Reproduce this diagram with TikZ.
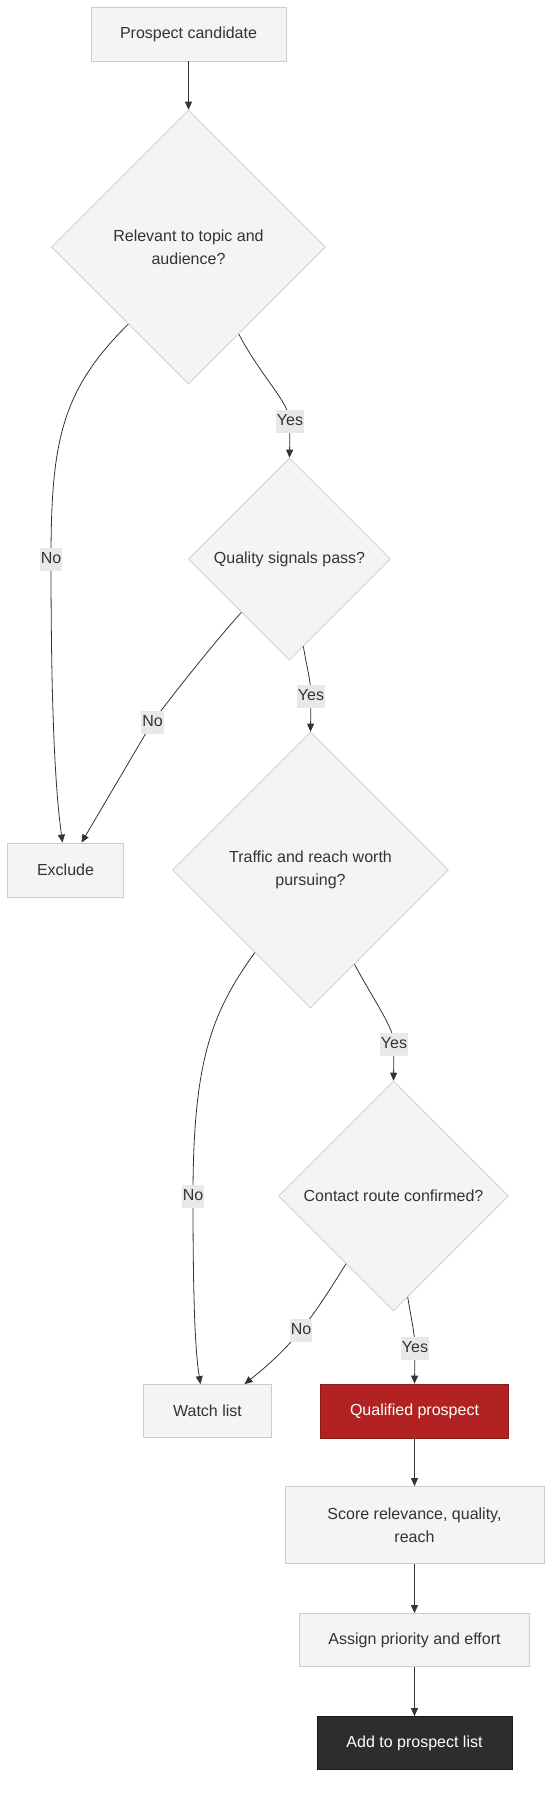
\documentclass[tikz,border=0pt]{standalone}
\usepackage{fontspec}
\setmainfont{Liberation Sans}
\usetikzlibrary{shapes, shapes.geometric}
\usetikzlibrary{arrows.meta}
\usetikzlibrary{calc}
\definecolor{boxfill}{HTML}{F4F4F4}
\definecolor{boxline}{HTML}{CCCCCC}
\definecolor{ink}{HTML}{333333}
\definecolor{lblfill}{HTML}{E8E8E8}
\definecolor{qualred}{HTML}{B22222}
\definecolor{qualedge}{HTML}{8E1B1B}
\definecolor{endfill}{HTML}{2D2D2D}
\definecolor{endedge}{HTML}{1A1A1A}
\tikzset{
    box/.style={draw=boxline, fill=boxfill, text=ink, inner sep=0pt,
        minimum height=54pt, align=center, line width=0.8pt},
    decision/.style={diamond, aspect=1, draw=boxline, fill=boxfill, text=ink,
        inner sep=0pt, align=center, line width=0.6pt},
    flow/.style={draw=ink, line width=0.8pt, -{Triangle[length=8pt,width=7pt]}},
    lbl/.style={fill=lblfill, text=ink, inner xsep=1pt, inner ysep=3.5pt,
        text height=12pt, text depth=4pt}
}

\begin{document}
\begin{tikzpicture}[x=1pt, y=-1pt, font=\fontsize{16}{23}\selectfont]
        \useasboundingbox (0,0) rectangle (557,1801);
        \node[box, minimum width=195pt] (cand) at (188.5,34) {Prospect candidate};
        \node[decision, minimum size=274pt, node distance=213pt, below of=cand]
            (rel) {Relevant to topic and\\audience?};
        \node[decision, minimum size=202pt, node distance=312pt, below of=rel,
            xshift=101pt] (qual) {Quality signals pass?};
        \node[decision, minimum size=276pt, node distance=311pt, below of=qual,
            xshift=21pt] (traf) {Traffic and reach worth\\pursuing?};
        \node[box, minimum width=116pt, node distance=245pt, left of=traf]
            (excl) {Exclude};
        \node[decision, minimum size=230pt, node distance=326pt, below of=traf,
            xshift=83pt] (cont) {Contact route confirmed?};
        \node[box, minimum width=188pt, node distance=215pt, below of=cont,
            xshift=21pt, fill=qualred, draw=qualedge, text=white] (qp)
            {Qualified prospect};
        \node[box, minimum width=128pt, minimum height=53pt, node distance=207pt,
            left of=qp] (watch) {Watch list};
        \node[box, minimum width=259pt, minimum height=77pt, node distance=114pt,
            below of=qp] (score) {Score relevance, quality,\\reach};
        \node[box, minimum width=230pt, minimum height=53pt, node distance=115pt,
            below of=score] (assign) {Assign priority and effort};
        \node[box, minimum width=195pt, minimum height=53pt, node distance=103pt,
            below of=assign, fill=endfill, draw=endedge, text=white] (add)
            {Add to prospect list};
        \draw[flow] (cand) -- (rel.north);
        \draw[flow] (rel.232) .. controls (62,390) and (51,440) .. (51,559)
            node[lbl] {No} .. controls (51,690) and (54,780) .. ([xshift=-3pt]excl.north);
        \draw[flow] (rel.-60) .. controls (262,378) and (289,402) .. (290,421)
            node[lbl] {Yes} -- (qual.north);
        \draw[flow] (qual.228) .. controls (218,638) and (178,688) .. (152.5,722)
            node[lbl] {No} -- ([xshift=16pt]excl.north);
        \draw[flow] (qual.-81) .. controls (307,668) and (311,682) .. (311,696)
            node[lbl] {Yes} -- (traf.north);
        \draw[flow] (traf.236) .. controls (212,1012) and (193,1060) .. (193,1196)
            node[lbl] {No} .. controls (193,1300) and (195,1350) .. ([xshift=-7pt]watch.north);
        \draw[flow] (traf.-65) .. controls (376,1004) and (394,1028) .. (394,1044)
            node[lbl] {Yes} -- (cont.north);
        \draw[flow] (cont.235) .. controls (326,1296) and (314,1314) .. (301,1330)
            node[lbl] {No} .. controls (282,1354) and (262,1370) .. ([xshift=37pt]watch.north);
        \draw[flow] (cont.-82) .. controls (411,1318) and (415,1334) .. (415,1348)
            node[lbl] {Yes} -- (qp.north);
        \draw[flow] (qp) -- (score);
        \draw[flow] (score) -- (assign);
        \draw[flow] (assign) -- (add);
    \end{tikzpicture}
\end{document}
